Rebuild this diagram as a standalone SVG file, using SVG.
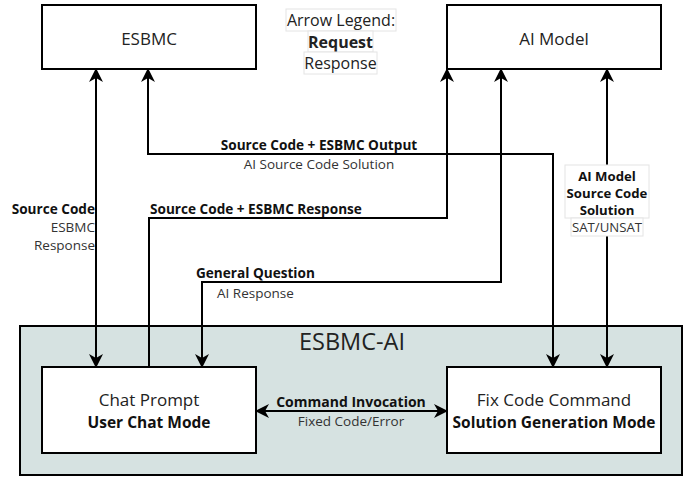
<svg xmlns="http://www.w3.org/2000/svg" width="691" height="478" viewBox="0 0 691 478">
<defs>
<marker id="ah" markerWidth="14" markerHeight="14" viewBox="0 0 14 14" refX="13" refY="7" orient="auto-start-reverse" markerUnits="userSpaceOnUse">
<path d="M0,0 L14,7 L0,14 L4,7 z" fill="#000"/>
</marker>
</defs>
<style>
text{font-family:"Open Sans","Noto Sans","DejaVu Sans",sans-serif;fill:#222}
.n{fill:#fff;stroke:#000;stroke-width:2}
.nt{font-size:17px;text-anchor:middle}
.ns{font-size:15.5px;font-weight:bold;text-anchor:middle;fill:#111}
.b{font-weight:bold}
.l{font-size:13.5px;fill:#333}
.lb{font-size:13.6px;font-weight:bold;fill:#111}
.ci{font-size:14px}
.am{font-size:13.2px}
.c{fill:none;stroke:#000;stroke-width:2}
.lg{fill:#fff;stroke:#e4e4e4;stroke-width:1}
</style>
<rect width="691" height="478" fill="#fff"/>
<g id="esbmc-ai">
<rect x="20" y="326" width="662" height="149" fill="#d6e2e1" stroke="#000" stroke-width="2"/>
<text x="352" y="350" font-size="23.5" text-anchor="middle">ESBMC-AI</text>
</g>
<g id="esbmc">
<rect class="n" x="42" y="5" width="214" height="64"/>
<text class="nt" x="149" y="45">ESBMC</text>
</g>
<g id="ai-model">
<rect class="n" x="447" y="5" width="214" height="64"/>
<text class="nt" x="554" y="45">AI Model</text>
</g>
<g id="chat-prompt">
<rect class="n" x="42" y="367" width="214" height="86"/>
<text class="nt" x="149" y="406">Chat Prompt</text>
<text class="ns" x="149" y="428">User Chat Mode</text>
</g>
<g id="fix-code">
<rect class="n" x="447" y="367" width="214" height="86"/>
<text class="nt" x="554" y="406">Fix Code Command</text>
<text class="ns" x="554" y="428">Solution Generation Mode</text>
</g>
<g id="legend">
<rect class="lg" x="286" y="9" width="110" height="22"/>
<text x="341" y="26" font-size="16" text-anchor="middle">Arrow Legend:</text>
<rect class="lg" x="308" y="31" width="65" height="21"/>
<text x="340.5" y="48" font-size="16" text-anchor="middle" class="b">Request</text>
<rect class="lg" x="304" y="52" width="73" height="22"/>
<text x="340.5" y="69" font-size="16" text-anchor="middle">Response</text>
</g>
<g id="connectors">
<path class="c" d="M96,69 V367" marker-start="url(#ah)" marker-end="url(#ah)"/>
<path class="c" d="M148,69 V154 H553 V367" marker-start="url(#ah)" marker-end="url(#ah)"/>
<path class="c" d="M149,367 V218 H447 V69" marker-end="url(#ah)"/>
<path class="c" d="M501,69 V282 H202 V367" marker-start="url(#ah)" marker-end="url(#ah)"/>
<path class="c" d="M607,69 V367" marker-start="url(#ah)" marker-end="url(#ah)"/>
<path class="c" d="M256,411 H447" marker-start="url(#ah)" marker-end="url(#ah)"/>
</g>
<g id="labels">
<text class="lb" x="319" y="150" text-anchor="middle">Source Code + ESBMC Output</text>
<text class="l" x="319" y="169" text-anchor="middle">AI Source Code Solution</text>
<text class="lb" x="150" y="214">Source Code + ESBMC Response</text>
<text class="lb" x="95" y="214" text-anchor="end">Source Code</text>
<text class="l" x="95" y="232" text-anchor="end">ESBMC</text>
<text class="l" x="95" y="250" text-anchor="end">Response</text>
<text class="lb" x="196" y="278">General Question</text>
<text class="l" x="217" y="298">AI Response</text>
<rect class="lg" x="565" y="165" width="84" height="53"/>
<text class="lb am" x="607" y="181" text-anchor="middle">AI Model</text>
<text class="lb am" x="607" y="198" text-anchor="middle">Source Code</text>
<text class="lb am" x="607" y="215" text-anchor="middle">Solution</text>
<rect class="lg" x="571" y="218" width="72" height="18"/>
<text class="l am" x="607" y="232" text-anchor="middle">SAT/UNSAT</text>
<text class="lb ci" x="351" y="407" text-anchor="middle">Command Invocation</text>
<text class="l" x="351" y="426" text-anchor="middle">Fixed Code/Error</text>
</g>
</svg>
